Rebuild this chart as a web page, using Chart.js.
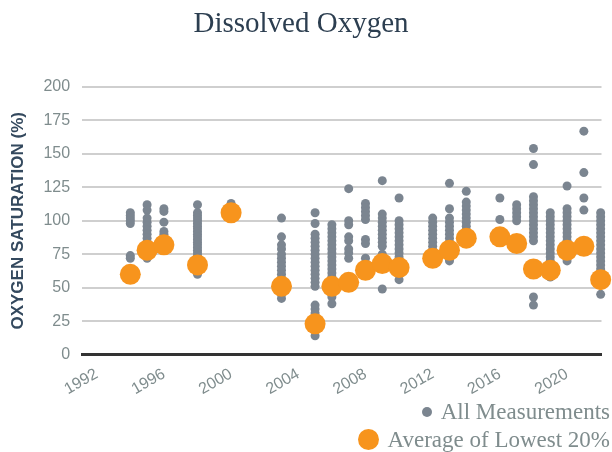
<!DOCTYPE html>
<html>
<head>
<meta charset="utf-8">
<script src="https://cdn.jsdelivr.net/npm/chart.js@4"></script>
<style>
  html, body { margin: 0; padding: 0; background: #fff; }
  #wrap { position: relative; width: 612px; height: 452px; }
  #title { position: absolute; left: 0; top: 4px; width: 602px; text-align: center; font-family: "Liberation Serif", serif; font-size: 29px; color: #2c3e50; line-height: 36px; }
  #legend { position: absolute; right: 2px; top: 398px; font-family: "Liberation Serif", serif; font-size: 23px; color: #7f8c8d; text-align: right; line-height: 28px; }
  #legend .dot { display: inline-block; border-radius: 50%; vertical-align: middle; position: relative; top: -2px; }
</style>
</head>
<body>
<div id="wrap">
  <canvas id="chart" width="612" height="452"></canvas>
  <div id="title">Dissolved Oxygen</div>
  <div id="legend">
    <div><span class="dot" style="width:10px;height:10px;background:#7b8590;margin-right:9px"></span>All Measurements</div>
    <div><span class="dot" style="width:21px;height:21px;background:#f7941d;margin-right:9px"></span>Average of Lowest 20%</div>
  </div>
</div>
<script>
/////////////////////////////// data //////////////////////////////////

const years = [1994, 1995, 1996, 1998, 2000, 2003, 2005, 2006, 2007, 2008, 2009, 2010,
               2012, 2013, 2014, 2016, 2017, 2018, 2019, 2020, 2021, 2022];

const measurements = [
    [106, 104, 102, 100, 98, 74, 72, 62, 58],
    [112, 108, 102, 99, 96, 93, 90, 87, 84, 81, 78, 75, 72],
    [109, 107, 99, 92, 90, 87, 84, 80],
    [112, 106, 104, 102, 100, 98, 96, 94, 92, 90, 88, 86, 84, 82, 80, 78, 76, 74, 72, 70, 68, 66, 64, 62, 60],
    [113, 111, 106, 103],
    [102, 88, 82, 79, 75, 72, 69, 66, 63, 60, 57, 54, 51, 48, 45, 42],
    [106, 98, 90, 87, 84, 81, 78, 75, 72, 69, 66, 63, 60, 57, 54, 51, 37, 34, 31, 23, 20, 14],
    [97, 94, 91, 88, 85, 82, 79, 76, 73, 70, 67, 64, 61, 58, 55, 52, 49, 46, 43, 38],
    [124, 100, 97, 88, 85, 79, 76, 72, 58, 54],
    [113, 110, 107, 104, 101, 86, 83, 72, 66, 62],
    [130, 105, 102, 99, 96, 93, 90, 87, 84, 81, 75, 70, 67, 49],
    [117, 100, 97, 94, 91, 88, 85, 82, 79, 76, 73, 70, 67, 64, 60, 56],
    [102, 99, 96, 93, 90, 87, 84, 81, 78, 75, 72, 68],
    [128, 109, 102, 99, 96, 93, 90, 87, 84, 81, 78, 75, 72, 70],
    [122, 114, 111, 108, 105, 102, 99, 96, 93, 90, 87, 84],
    [117, 101, 90, 86],
    [112, 109, 106, 103, 100, 86, 80],
    [154, 142, 118, 115, 112, 109, 106, 103, 100, 97, 94, 91, 88, 85, 66, 62, 43, 37],
    [106, 103, 100, 97, 94, 91, 88, 85, 82, 79, 76, 73, 70, 67, 64, 61, 58],
    [126, 109, 106, 103, 100, 97, 94, 91, 88, 85, 82, 79, 76, 73, 70],
    [167, 136, 117, 108, 82, 80],
    [106, 103, 100, 97, 94, 91, 88, 85, 82, 79, 76, 73, 70, 67, 64, 61, 58, 55, 45]
];

const lowest20 = [60, 78, 82, 67, 106, 51, 23, 51, 54, 63, 68, 65,
                  72, 78, 87, 88, 83, 64, 63, 78, 81, 56];

const yearTicks = [1992, 1996, 2000, 2004, 2008, 2012, 2016, 2020];
const yTicks = [0, 25, 50, 75, 100, 125, 150, 175, 200];

/////////////////////////////// chart //////////////////////////////////

const allPoints = [];
years.forEach((yr, i) => measurements[i].forEach(v => allPoints.push({ x: yr, y: v })));
const lowPoints = years.map((yr, i) => ({ x: yr, y: lowest20[i] }));

const tickColor = '#7f8c8d';

new Chart(document.getElementById('chart').getContext('2d'), {
    type: 'scatter',
    data: {
        datasets: [
            {
                label: 'All Measurements',
                data: allPoints,
                backgroundColor: '#7b8590',
                borderWidth: 0,
                pointRadius: 4.5,
                clip: false,
                order: 2
            },
            {
                label: 'Average of Lowest 20%',
                data: lowPoints,
                backgroundColor: '#f7941d',
                borderWidth: 0,
                pointRadius: 10.5,
                clip: false,
                order: 1
            }
        ]
    },
    options: {
        responsive: false,
        animation: false,
        layout: {
            padding: { left: 8, right: -5, top: 87, bottom: 51 }
        },
        scales: {
            x: {
                type: 'linear',
                min: 1991.13,
                max: 2022.05,
                afterBuildTicks: axis => { axis.ticks = yearTicks.map(v => ({ value: v })); },
                grid: { display: false },
                border: { display: true, color: '#333', width: 3 },
                ticks: {
                    color: tickColor,
                    minRotation: 30,
                    maxRotation: 30,
                    padding: 2,
                    font: { family: 'Liberation Sans', size: 16 },
                    callback: v => String(v)
                }
            },
            y: {
                min: 0,
                max: 200,
                afterBuildTicks: axis => { axis.ticks = yTicks.map(v => ({ value: v })); },
                grid: { color: '#cfcfcf', lineWidth: 2, drawTicks: false },
                border: { display: false },
                ticks: {
                    color: tickColor,
                    padding: 12,
                    font: { family: 'Liberation Sans', size: 16 }
                },
                title: {
                    display: true,
                    text: 'OXYGEN SATURATION (%)',
                    color: '#34495e',
                    padding: { top: 0, bottom: 3 },
                    font: { family: 'Liberation Sans', size: 17, weight: 'bold' }
                }
            }
        },
        plugins: {
            legend: { display: false },
            tooltip: { enabled: false }
        }
    }
});
</script>
</body>
</html>
